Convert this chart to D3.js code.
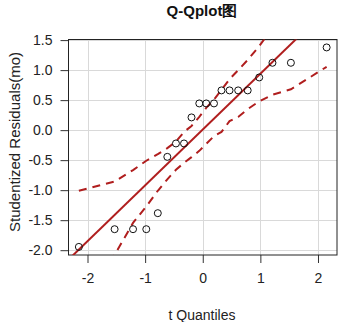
<!DOCTYPE html>
<html>
<head>
<meta charset="utf-8">
<script src="https://cdn.jsdelivr.net/npm/d3@7"></script>
<style>
  html, body { margin: 0; padding: 0; background: #fff; }
  svg { display: block; font-family: "Liberation Sans", Arial, sans-serif; }
</style>
</head>
<body>
<svg id="chart" width="352" height="322"></svg>
<script>
// ---- data ----
const titleText = "Q-Qplot图";
const xLabel = "t Quantiles";
const yLabel = "Studentized Residuals(mo)";
const xTicks = [-2, -1, 0, 1, 2];
const yTicks = [-2.0, -1.5, -1.0, -0.5, 0.0, 0.5, 1.0, 1.5];
const quantiles = [-2.15, -1.53, -1.21, -0.98, -0.78, -0.615, -0.465, -0.325, -0.195, -0.06,
                   0.06, 0.195, 0.325, 0.465, 0.615, 0.78, 0.98, 1.21, 1.53, 2.15];
const residuals = [-1.945, -1.65, -1.65, -1.65, -1.383, -0.445, -0.222, -0.222, 0.212, 0.445,
                   0.445, 0.445, 0.662, 0.662, 0.662, 0.662, 0.878, 1.122, 1.122, 1.378];
const upperBand = [-1.01, -0.855, -0.665, -0.51, -0.40, -0.30, -0.19, -0.03, 0.07, 0.22,
                   0.37, 0.51, 0.67, 0.85, 1.0, 1.17, 1.40, 1.70, 2.10, 2.95];
const lowerBand = [-2.97, -2.08, -1.545, -1.27, -1.01, -0.82, -0.66, -0.545, -0.45, -0.345,
                   -0.23, -0.10, -0.03, 0.15, 0.22, 0.35, 0.48, 0.59, 0.68, 1.055];
const refLine = { intercept: 0.01, slope: 0.93 };
const xDomain = [-2.33, 2.33];
const yDomain = [-2.08, 1.51];

// ---- drawing ----
(function () {
const svg = d3.select("#chart");
const L = 68.5, R = 337, T = 39.5, B = 255;
const red = "#B01E1E";

const x = d3.scaleLinear().domain(xDomain).range([L, R]);
const y = d3.scaleLinear().domain(yDomain).range([B, T]);

svg.append("defs").append("clipPath").attr("id", "clip")
  .append("rect").attr("x", L).attr("y", T)
  .attr("width", R - L).attr("height", B - T);

// grid
const grid = svg.append("g").attr("stroke", "#d9d9d9").attr("stroke-width", 1);
xTicks.forEach(t => grid.append("line")
  .attr("x1", Math.round(x(t)) + 0.5).attr("x2", Math.round(x(t)) + 0.5)
  .attr("y1", T).attr("y2", B));
yTicks.forEach(t => grid.append("line")
  .attr("y1", Math.round(y(t)) + 0.5).attr("y2", Math.round(y(t)) + 0.5)
  .attr("x1", L).attr("x2", R));

// axes
const xAxis = d3.axisBottom(x).tickValues(xTicks).tickSize(8).tickPadding(10)
  .tickFormat(d => d3.format("d")(d).replace("−", "-"));
const yAxis = d3.axisLeft(y).tickValues(yTicks).tickSize(8).tickPadding(8)
  .tickFormat(d => d3.format(".1f")(d).replace("−", "-"));

const gx = svg.append("g").attr("transform", `translate(0,${B})`).call(xAxis);
const gy = svg.append("g").attr("transform", `translate(${L},0)`).call(yAxis);
[gx, gy].forEach(g => {
  g.select(".domain").remove();
  g.selectAll("line").attr("stroke", "#333");
  g.selectAll("text").attr("fill", "#222").style("font-size", "14px")
    .style("font-family", '"Liberation Sans", Arial, sans-serif');
});

// box
svg.append("rect").attr("x", L).attr("y", T)
  .attr("width", R - L).attr("height", B - T)
  .attr("fill", "none").attr("stroke", "#222").attr("stroke-width", 1);

const plot = svg.append("g").attr("clip-path", "url(#clip)");

// reference line
plot.append("line")
  .attr("x1", x(xDomain[0])).attr("y1", y(refLine.intercept + refLine.slope * xDomain[0]))
  .attr("x2", x(xDomain[1])).attr("y2", y(refLine.intercept + refLine.slope * xDomain[1]))
  .attr("stroke", red).attr("stroke-width", 2);

// confidence envelope
const lineGen = d3.line().x(d => x(d[0])).y(d => y(d[1]));
[upperBand, lowerBand].forEach(band => {
  plot.append("path")
    .attr("d", lineGen(quantiles.map((q, i) => [q, band[i]])))
    .attr("fill", "none").attr("stroke", red).attr("stroke-width", 2)
    .attr("stroke-dasharray", "8,6");
});

// points
svg.append("g").selectAll("circle")
  .data(quantiles.map((q, i) => [q, residuals[i]]))
  .join("circle")
  .attr("cx", d => x(d[0])).attr("cy", d => y(d[1])).attr("r", 3.5)
  .attr("fill", "none").attr("stroke", "#111").attr("stroke-width", 1);

// title and labels
svg.append("text").attr("x", 202).attr("y", 16)
  .attr("text-anchor", "middle").attr("font-weight", "bold")
  .style("font-size", "15px").attr("fill", "#111").text(titleText);
svg.append("text").attr("x", 202).attr("y", 320)
  .attr("text-anchor", "middle").style("font-size", "14px").attr("fill", "#222").text(xLabel);
svg.append("text").attr("transform", `translate(20,142) rotate(-90)`)
  .attr("text-anchor", "middle").style("font-size", "15px").attr("fill", "#222").text(yLabel);
})();
</script>
</body>
</html>
